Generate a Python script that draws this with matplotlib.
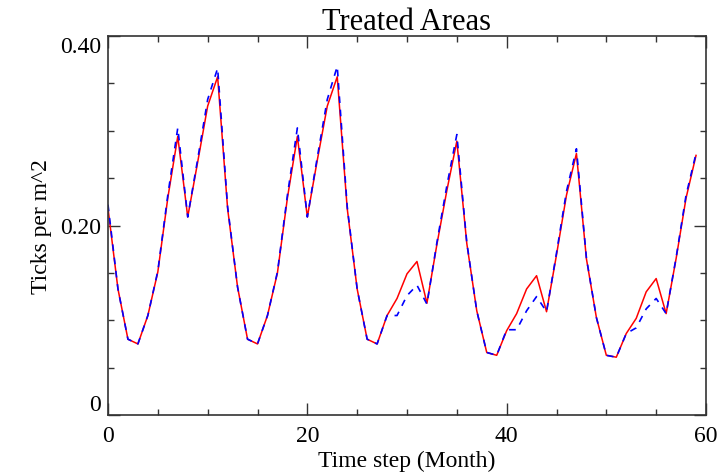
import numpy as np
import matplotlib
matplotlib.use('Agg')
import matplotlib.pyplot as plt
from matplotlib.ticker import MultipleLocator

plt.rcParams['font.family'] = ['Liberation Serif', 'DejaVu Serif']

# monthly values
months = np.arange(60)
red_vals = [0.218, 0.133, 0.080, 0.075, 0.105, 0.151, 0.229, 0.294, 0.209, 0.267, 0.326, 0.357,
            0.218, 0.135, 0.080, 0.075, 0.105, 0.150, 0.229, 0.294, 0.209, 0.269, 0.326, 0.357,
            0.218, 0.133, 0.080, 0.075, 0.105, 0.123, 0.149, 0.162, 0.118, 0.180, 0.237, 0.289,
            0.181, 0.110, 0.066, 0.063, 0.089, 0.107, 0.133, 0.147, 0.109, 0.169, 0.232, 0.276,
            0.165, 0.103, 0.063, 0.061, 0.086, 0.102, 0.130, 0.144, 0.107, 0.165, 0.229, 0.274]
blue_vals = [0.222, 0.133, 0.080, 0.075, 0.105, 0.152, 0.232, 0.303, 0.209, 0.270, 0.333, 0.366,
             0.220, 0.135, 0.080, 0.075, 0.105, 0.151, 0.232, 0.303, 0.209, 0.272, 0.333, 0.368,
             0.220, 0.133, 0.080, 0.075, 0.105, 0.105, 0.126, 0.137, 0.117, 0.182, 0.242, 0.296,
             0.182, 0.110, 0.066, 0.063, 0.090, 0.090, 0.110, 0.125, 0.109, 0.171, 0.236, 0.281,
             0.166, 0.103, 0.063, 0.061, 0.086, 0.092, 0.112, 0.123, 0.107, 0.166, 0.232, 0.276]

fig = plt.figure(figsize=(7.21, 4.77), dpi=100)
ax = fig.add_axes([108/721, 1 - 416/477, (706-108)/721, (416-37)/477])

ax.plot(months, red_vals, color='#ff0000', linewidth=1.1)
ax.plot(months, blue_vals, color='#0000ff', linewidth=1.2, linestyle=(0, (4, 4)))

ax.set_xlim(0, 60)
ax.set_ylim(0, 0.40)
ax.xaxis.set_minor_locator(MultipleLocator(5))
ax.yaxis.set_minor_locator(MultipleLocator(0.05))
ax.set_yticks([0, 0.2, 0.4])
ax.set_yticklabels(['0', '0.20', '0.40'])
ax.set_xticks([0, 20, 40, 60])
ax.set_xticklabels(['0', '20', '40', '60'])

ax.tick_params(which='both', direction='in', top=True, right=True, labelsize=17, colors='#333333', labelcolor='black')
ax.tick_params(which='major', length=8.5, width=1)
ax.tick_params(which='minor', length=4.5, width=1)
ax.tick_params(axis='x', pad=7)
ax.tick_params(axis='y', pad=5)
ylabels = ax.get_yticklabels()
ylabels[0].set_verticalalignment('bottom')
ylabels[-1].set_verticalalignment('top')

for s in ax.spines.values():
    s.set_color('#333333')
    s.set_linewidth(1.2)

ax.set_title('Treated Areas', fontsize=22, pad=5)
ax.set_xlabel('Time step (Month)', fontsize=17, labelpad=3)
ax.set_ylabel('Ticks per m^2', fontsize=17, labelpad=6)

fig.savefig('out.png', dpi=100)
